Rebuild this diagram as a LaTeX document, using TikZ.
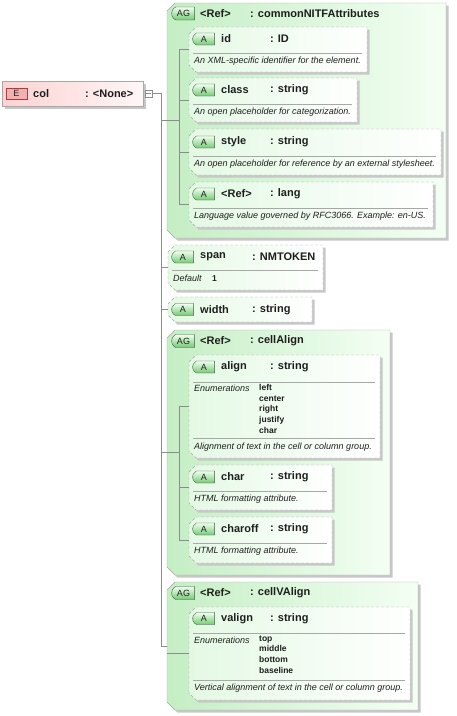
\documentclass[tikz,border=0pt]{standalone}
\usepackage{fontspec}
\setmainfont{Liberation Sans}
\usepackage{tikz}
\usepackage{xcolor}
\usetikzlibrary{shapes.misc,shadows}
\definecolor{grpleft}{RGB}{196,238,196}
\definecolor{grpright}{RGB}{244,255,244}
\definecolor{attleft}{RGB}{228,249,228}
\definecolor{elleft}{RGB}{252,210,210}
\definecolor{elright}{RGB}{255,246,246}
\definecolor{tagtop}{RGB}{240,255,240}
\definecolor{tagbot}{RGB}{116,202,116}
\definecolor{tagline}{RGB}{70,90,70}
\definecolor{etagfill}{RGB}{244,176,176}
\definecolor{etagline}{RGB}{160,64,64}
\definecolor{frame}{RGB}{168,168,168}
\definecolor{wire}{RGB}{140,140,140}
\definecolor{ink}{RGB}{30,30,30}
% chamfered outline round a named slot node
\newcommand\cutframe[3]{%
  \path[#1] ([yshift=-#3]#2.north west) -- ([xshift=#3]#2.north west) -- (#2.north east)
    -- (#2.south east) -- ([xshift=#3]#2.south west) -- ([yshift=#3]#2.south west) -- cycle;}

\begin{document}
\begin{tikzpicture}[
  x=1pt, y=-1pt,
  boxshadow/.style={drop shadow={shadow xshift=2.5pt, shadow yshift=-2.5pt, fill=black!22, opacity=1}},
  slot/.style={inner sep=0, outer sep=0},
  elembox/.style={draw=frame, left color=elleft, right color=elright, inner sep=0, boxshadow},
  grpbox/.style={draw=frame, left color=grpleft, right color=grpright, boxshadow},
  attbox/.style={draw=frame, dash pattern=on 3pt off 2pt, left color=attleft, right color=white, boxshadow},
  tag/.style={rounded rectangle, rounded rectangle right arc=none, rounded rectangle arc length=130,
    draw=tagline, top color=tagtop, bottom color=tagbot, minimum width=22pt, minimum height=12pt,
    inner sep=0, text=ink, font=\fontsize{9}{9}\selectfont},
  etag/.style={draw=etagline, fill=etagfill, minimum width=21pt, minimum height=11pt, inner sep=0,
    text=ink, font=\fontsize{9}{9}\selectfont},
  btn/.style={draw=wire, fill=white, minimum size=7pt, inner sep=0},
  hd/.style={anchor=west, inner sep=0, text=ink, font=\fontsize{11}{13}\selectfont\bfseries},
  dsc/.style={anchor=west, inner sep=0, text=ink, font=\fontsize{9}{10}\selectfont\itshape},
  enm/.style={anchor=north west, inner sep=0, align=left, text=ink, font=\fontsize{8.5}{10.7}\selectfont\bfseries},
  sepline/.style={draw=frame},
  tree/.style={draw=wire, line width=0.6pt}
]
\fill[white] (0,0) rectangle (456,716);
\useasboundingbox (0,0) rectangle (456,716);

% element
\node[elembox, minimum width=141pt, minimum height=25pt] (col) at (72.5,93.5) {};
\node[etag] (colE) at (16.5,93.5) {E};
\node[hd] (colname) at (33,93.5) {col};
\node[hd] (coltype) at (85,93.5) {: <None>};
\node[btn] (colbtn) at (148.5,93.5) {};
\draw[wire] ([xshift=1.5pt]colbtn.west) -- ([xshift=-1.5pt]colbtn.east);

% attribute groups
\node[slot, minimum width=279pt, minimum height=235pt] (ag1) at (306.5,120.5) {};
\node[slot, minimum width=223pt, minimum height=245pt] (ag2) at (278.5,452.5) {};
\node[slot, minimum width=251pt, minimum height=128pt] (ag3) at (292.5,646) {};
\cutframe{grpbox}{ag1}{8pt}
\cutframe{grpbox}{ag2}{8pt}
\cutframe{grpbox}{ag3}{8pt}

% attribute boxes
\node[slot, minimum width=178pt, minimum height=45pt] (idatt) at (278,49.5) {};
\node[slot, minimum width=168pt, minimum height=44pt] (classatt) at (273,100) {};
\node[slot, minimum width=252pt, minimum height=46pt] (styleatt) at (315,152) {};
\node[slot, minimum width=244pt, minimum height=45pt] (langatt) at (311,204.5) {};
\node[slot, minimum width=155pt, minimum height=45pt] (spanatt) at (245.5,267.5) {};
\node[slot, minimum width=144pt, minimum height=25pt] (widthatt) at (240,309.5) {};
\node[slot, minimum width=191pt, minimum height=103pt] (alignatt) at (284.5,406.5) {};
\node[slot, minimum width=143pt, minimum height=45pt] (charatt) at (260.5,487.5) {};
\node[slot, minimum width=143pt, minimum height=46pt] (charoffatt) at (260.5,540) {};
\node[slot, minimum width=221pt, minimum height=93pt] (valignatt) at (299.5,653.5) {};
\cutframe{attbox}{idatt}{7pt}
\cutframe{attbox}{classatt}{7pt}
\cutframe{attbox}{styleatt}{7pt}
\cutframe{attbox}{langatt}{7pt}
\cutframe{attbox}{spanatt}{7pt}
\cutframe{attbox}{widthatt}{7pt}
\cutframe{attbox}{alignatt}{7pt}
\cutframe{attbox}{charatt}{7pt}
\cutframe{attbox}{charoffatt}{7pt}
\cutframe{attbox}{valignatt}{7pt}

% commonNITFAttributes
\node[tag, minimum width=23pt, minimum height=13pt] (ag1tag) at (183.5,13.5) {AG};
\node[hd] (ag1name) at (200,13.5) {<Ref>};
\node[hd] (ag1type) at (250,13.5) {: commonNITFAttributes};

\node[tag] (idtag) at (204,39) {A};
\node[hd] (idname) at (221,39) {id};
\node[hd] (idtype) at (270,39) {: ID};
\draw[sepline] (193,53) -- (362,53);
\node[dsc] (iddoc) at (194,61.5) {An XML-specific identifier for the element.};

\node[tag] (classtag) at (204,90) {A};
\node[hd] (classname) at (221,90) {class};
\node[hd] (classtype) at (270,90) {: string};
\draw[sepline] (193,104) -- (352,104);
\node[dsc] (classdoc) at (194,112.5) {An open placeholder for categorization.};

\node[tag] (styletag) at (204,142) {A};
\node[hd] (stylename) at (221,142) {style};
\node[hd] (styletype) at (270,142) {: string};
\draw[sepline] (193,156) -- (436,156);
\node[dsc] (styledoc) at (194,164) {An open placeholder for reference by an external stylesheet.};

\node[tag] (langtag) at (204,194) {A};
\node[hd] (langname) at (221,194) {<Ref>};
\node[hd] (langtype) at (270,194) {: lang};
\draw[sepline] (193,208) -- (428,208);
\node[dsc] (langdoc) at (194,216.5) {Language value governed by RFC3066. Example: en-US.};

% span, width
\node[tag] (spantag) at (183,257) {A};
\node[hd] (spanname) at (200,257) {span};
\node[hd] (spantype) at (252,257) {: NMTOKEN};
\draw[sepline] (172,270) -- (318,270);
\node[dsc] (spandef) at (173,278.5) {Default};
\node[hd, font=\fontsize{8.5}{10}\selectfont\bfseries] (spanval) at (212,278.5) {1};

\node[tag] (widthtag) at (183,309.5) {A};
\node[hd] (widthname) at (200,309.5) {width};
\node[hd] (widthtype) at (252,309.5) {: string};

% cellAlign
\node[tag, minimum width=23pt, minimum height=13pt] (ag2tag) at (183.5,341) {AG};
\node[hd] (ag2name) at (200,341) {<Ref>};
\node[hd] (ag2type) at (250,341) {: cellAlign};

\node[tag] (aligntag) at (204,367) {A};
\node[hd] (alignname) at (221,367) {align};
\node[hd] (aligntype) at (270,367) {: string};
\draw[sepline] (193,382) -- (375,382);
\node[dsc] (alignenum) at (194,388.5) {Enumerations};
\node[enm] (alignvals) at (259,384) {left\\center\\right\\justify\\char};
\draw[sepline] (193,438) -- (375,438);
\node[dsc] (aligndoc) at (194,447) {Alignment of text in the cell or column group.};

\node[tag] (chartag) at (204,477) {A};
\node[hd] (charname) at (221,477) {char};
\node[hd] (chartype) at (270,477) {: string};
\draw[sepline] (193,491) -- (327,491);
\node[dsc] (chardoc) at (194,499) {HTML formatting attribute.};

\node[tag] (charofftag) at (204,529) {A};
\node[hd] (charoffname) at (221,529) {charoff};
\node[hd] (charofftype) at (270,529) {: string};
\draw[sepline] (193,543) -- (327,543);
\node[dsc] (charoffdoc) at (194,551) {HTML formatting attribute.};

% cellVAlign
\node[tag, minimum width=23pt, minimum height=13pt] (ag3tag) at (183.5,593) {AG};
\node[hd] (ag3name) at (200,593) {<Ref>};
\node[hd] (ag3type) at (250,593) {: cellVAlign};

\node[tag] (valigntag) at (204,618.5) {A};
\node[hd] (valignname) at (221,618.5) {valign};
\node[hd] (valigntype) at (270,618.5) {: string};
\draw[sepline] (193,633) -- (405,633);
\node[dsc] (valignenum) at (194,640) {Enumerations};
\node[enm] (valignvals) at (259,635.5) {top\\middle\\bottom\\baseline};
\draw[sepline] (193,680) -- (405,680);
\node[dsc] (valigndoc) at (194,688) {Vertical alignment of text in the cell or column group.};

% tree lines
\coordinate (trunk) at (161,93.5);
\draw[tree] (colbtn.east) -- (trunk) -- (trunk |- ag3.west) -- (ag3.west);
\draw[tree] (trunk |- ag1.west) -- (ag1.west);
\draw[tree] (trunk |- spanatt.west) -- (spanatt.west);
\draw[tree] (trunk |- widthatt.west) -- (widthatt.west);
\draw[tree] (trunk |- ag2.west) -- (ag2.west);

\coordinate (bus1) at (179,49.5);
\draw[tree] (ag1.west) -- (bus1 |- ag1.west);
\draw[tree] (bus1 |- idatt.west) -- (bus1 |- langatt.west);
\draw[tree] (bus1 |- idatt.west) -- (idatt.west);
\draw[tree] (bus1 |- classatt.west) -- (classatt.west);
\draw[tree] (bus1 |- styleatt.west) -- (styleatt.west);
\draw[tree] (bus1 |- langatt.west) -- (langatt.west);

\coordinate (bus2) at (179,406.5);
\draw[tree] (ag2.west) -- (bus2 |- ag2.west);
\draw[tree] (bus2 |- alignatt.west) -- (bus2 |- charoffatt.west);
\draw[tree] (bus2 |- alignatt.west) -- (alignatt.west);
\draw[tree] (bus2 |- charatt.west) -- (charatt.west);
\draw[tree] (bus2 |- charoffatt.west) -- (charoffatt.west);

\draw[tree] (ag3.west |- valignatt.west) -- (valignatt.west);
\end{tikzpicture}
\end{document}
